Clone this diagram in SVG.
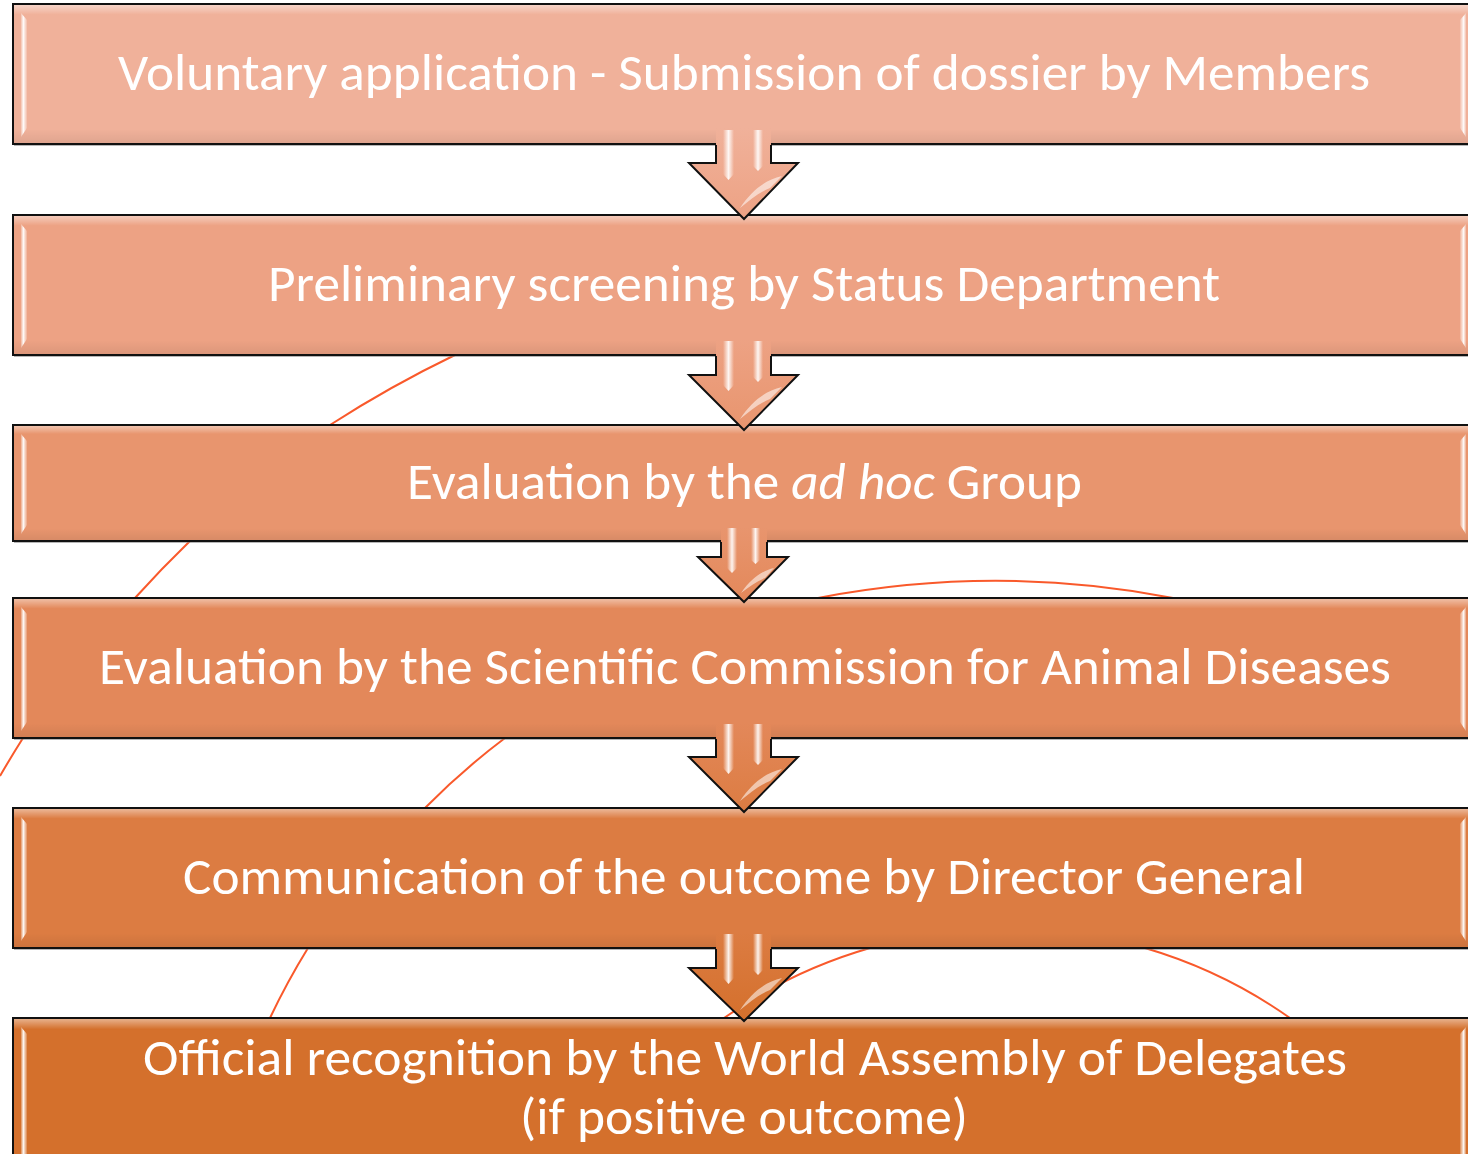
<svg xmlns="http://www.w3.org/2000/svg" width="1468" height="1154" viewBox="0 0 1468 1154">
<defs>
<style>
.arc{fill:none;stroke:#F9592B;stroke-width:2}
.box{stroke:#111;stroke-width:2}
.shadow{fill:#7a7a7a;opacity:.55}
.gloss{fill:url(#gloss);stroke:none}
.bev{fill:url(#bevL);stroke:none}
.bevr{fill:url(#bevR);stroke:none}
.txt{font-family:Carlito,"Open Sans","Noto Sans",sans-serif;font-size:52px;fill:#fff}
.arrow{stroke:none}
.aline{fill:none;stroke:#111;stroke-width:2;stroke-linejoin:miter}
.hl{fill:url(#hlg);stroke:none}
.gl{fill:#fff;opacity:.55;stroke:none}
</style>
<linearGradient id="gloss" x1="0" y1="0" x2="0" y2="1">
<stop offset="0" stop-color="#fff" stop-opacity=".45"/>
<stop offset=".07" stop-color="#fff" stop-opacity="0"/>
<stop offset=".9" stop-color="#000" stop-opacity="0"/>
<stop offset="1" stop-color="#000" stop-opacity=".07"/>
</linearGradient>
<linearGradient id="bevL" x1="0" y1="0" x2="1" y2="0">
<stop offset="0" stop-color="#fff" stop-opacity=".2"/>
<stop offset=".4" stop-color="#fff" stop-opacity=".95"/>
<stop offset="1" stop-color="#fff" stop-opacity=".15"/>
</linearGradient>
<linearGradient id="bevR" x1="0" y1="0" x2="1" y2="0">
<stop offset="0" stop-color="#fff" stop-opacity=".15"/>
<stop offset=".6" stop-color="#fff" stop-opacity=".95"/>
<stop offset="1" stop-color="#fff" stop-opacity=".2"/>
</linearGradient>
<linearGradient id="hlg" x1="0" y1="0" x2="1" y2="0">
<stop offset="0" stop-color="#fff" stop-opacity="0"/>
<stop offset=".5" stop-color="#fff" stop-opacity=".9"/>
<stop offset="1" stop-color="#fff" stop-opacity="0"/>
</linearGradient>
<linearGradient id="a1" x1="0" y1="0" x2="0" y2="1"><stop offset="0" stop-color="#F0B19A"/><stop offset="1" stop-color="#EDA284"/></linearGradient>
<linearGradient id="a2" x1="0" y1="0" x2="0" y2="1"><stop offset="0" stop-color="#EDA284"/><stop offset="1" stop-color="#E8956E"/></linearGradient>
<linearGradient id="a3" x1="0" y1="0" x2="0" y2="1"><stop offset="0" stop-color="#E8956E"/><stop offset="1" stop-color="#E3885A"/></linearGradient>
<linearGradient id="a4" x1="0" y1="0" x2="0" y2="1"><stop offset="0" stop-color="#E3885A"/><stop offset="1" stop-color="#DC7C42"/></linearGradient>
<linearGradient id="a5" x1="0" y1="0" x2="0" y2="1"><stop offset="0" stop-color="#DC7C42"/><stop offset="1" stop-color="#D4702C"/></linearGradient>
</defs>
<rect width="1468" height="1154" fill="#fff"/>

<g id="background-arcs">
<path class="arc" d="M330,425 A1162,1162 0 0 1 455,355"/>
<path class="arc" d="M135,598 A1162,1162 0 0 1 190,541"/>
<path class="arc" d="M0,776 A1162,1162 0 0 1 23,738"/>
<path class="arc" d="M425,808 A721,721 0 0 1 505,738"/>
<path class="arc" d="M270,1018 A721,721 0 0 1 308,948"/>
<path class="arc" d="M818,598 A935,935 0 0 1 1173,598"/>
<path class="arc" d="M724,1018 A490,490 0 0 1 870,948"/>
<path class="arc" d="M1145,948 A490,490 0 0 1 1290,1018"/>
</g>

<g id="node1">
<rect class="shadow" x="14" y="6" width="1470" height="140"/>
<rect class="box" x="13" y="4" width="1470" height="140" fill="#F0B19A"/>
<rect class="gloss" x="14" y="5" width="1468" height="138"/>
<polygon class="bev" points="21,13 27,20 27,128 21,137"/>
<polygon class="bevr" points="1466,13 1460,20 1460,128 1466,137"/>
<text class="txt" x="118" y="90" textLength="1252" lengthAdjust="spacingAndGlyphs">Voluntary application - Submission of dossier by Members</text>
</g>

<g id="node2">
<rect class="shadow" x="14" y="217" width="1470" height="140"/>
<rect class="box" x="13" y="215" width="1470" height="140" fill="#EDA284"/>
<rect class="gloss" x="14" y="216" width="1468" height="138"/>
<polygon class="bev" points="21,224 27,231 27,339 21,348"/>
<polygon class="bevr" points="1466,224 1460,231 1460,339 1466,348"/>
<text class="txt" x="268" y="301" textLength="952" lengthAdjust="spacingAndGlyphs">Preliminary screening by Status Department</text>
</g>

<g id="node3">
<rect class="shadow" x="14" y="427" width="1470" height="116"/>
<rect class="box" x="13" y="425" width="1470" height="116" fill="#E8956E"/>
<rect class="gloss" x="14" y="426" width="1468" height="114"/>
<polygon class="bev" points="21,434 27,441 27,525 21,534"/>
<polygon class="bevr" points="1466,434 1460,441 1460,525 1466,534"/>
<text class="txt" x="407" y="499" textLength="675" lengthAdjust="spacingAndGlyphs">Evaluation by the <tspan font-style="italic">ad hoc</tspan> Group</text>
</g>

<g id="node4">
<rect class="shadow" x="14" y="600" width="1470" height="140"/>
<rect class="box" x="13" y="598" width="1470" height="140" fill="#E3885A"/>
<rect class="gloss" x="14" y="599" width="1468" height="138"/>
<polygon class="bev" points="21,607 27,614 27,722 21,731"/>
<polygon class="bevr" points="1466,607 1460,614 1460,722 1466,731"/>
<text class="txt" x="99" y="684" textLength="1292" lengthAdjust="spacingAndGlyphs">Evaluation by the Scientific Commission for Animal Diseases</text>
</g>

<g id="node5">
<rect class="shadow" x="14" y="810" width="1470" height="140"/>
<rect class="box" x="13" y="808" width="1470" height="140" fill="#DC7C42"/>
<rect class="gloss" x="14" y="809" width="1468" height="138"/>
<polygon class="bev" points="21,817 27,824 27,932 21,941"/>
<polygon class="bevr" points="1466,817 1460,824 1460,932 1466,941"/>
<text class="txt" x="183" y="894" textLength="1122" lengthAdjust="spacingAndGlyphs">Communication of the outcome by Director General</text>
</g>

<g id="node6">
<rect class="shadow" x="14" y="1020" width="1470" height="150"/>
<rect class="box" x="13" y="1018" width="1470" height="150" fill="#D4702C"/>
<rect class="gloss" x="14" y="1019" width="1468" height="148"/>
<polygon class="bev" points="21,1027 27,1034 27,1160 21,1168"/>
<polygon class="bevr" points="1466,1027 1460,1034 1460,1160 1466,1168"/>
<text class="txt" x="143" y="1075" textLength="1204" lengthAdjust="spacingAndGlyphs">Official recognition by the World Assembly of Delegates</text>
<text class="txt" x="520" y="1134" textLength="448" lengthAdjust="spacingAndGlyphs">(if positive outcome)</text>
</g>

<g id="connectors">
<g id="arrow1">
<polygon class="arrow" fill="url(#a1)" points="716,128 771,128 771,163 798,163 744,219 689,163 716,163"/>
<polyline class="aline" points="716,145 716,163 689,163 744,219 798,163 771,163 771,145"/>
<path class="hl" d="M723,130 h11 v44 l-5.5,6 l-5.5,-6 z"/>
<path class="hl" d="M753,130 h10 v36 l-5,5 l-5,-5 z"/>
<path class="gl" d="M740,208 C752,190 765,180 782,176 L770,188 C760,192 750,200 740,208 z"/>
</g>
<g id="arrow2">
<polygon class="arrow" fill="url(#a2)" points="716,339 771,339 771,375 798,375 744,430 689,375 716,375"/>
<polyline class="aline" points="716,356 716,375 689,375 744,430 798,375 771,375 771,356"/>
<path class="hl" d="M723,341 h11 v44 l-5.5,6 l-5.5,-6 z"/>
<path class="hl" d="M753,341 h10 v36 l-5,5 l-5,-5 z"/>
<path class="gl" d="M740,419 C752,401 765,391 782,387 L770,399 C760,403 750,411 740,419 z"/>
</g>
<g id="arrow3">
<polygon class="arrow" fill="url(#a3)" points="721,527 767,527 767,557 788,557 744,602 698,557 721,557"/>
<polyline class="aline" points="721,542 721,557 698,557 744,602 788,557 767,557 767,542"/>
<path class="hl" d="M727,528 h10 v40 l-5,5 l-5,-5 z"/>
<path class="hl" d="M751,528 h9 v32 l-4.5,4 l-4.5,-4 z"/>
<path class="gl" d="M741,593 C751,579 761,571 774,568 L765,578 C757,581 749,587 741,593 z"/>
</g>
<g id="arrow4">
<polygon class="arrow" fill="url(#a4)" points="716,722 771,722 771,757 798,757 744,812 689,757 716,757"/>
<polyline class="aline" points="716,739 716,757 689,757 744,812 798,757 771,757 771,739"/>
<path class="hl" d="M723,724 h11 v44 l-5.5,6 l-5.5,-6 z"/>
<path class="hl" d="M753,724 h10 v36 l-5,5 l-5,-5 z"/>
<path class="gl" d="M740,801 C752,783 765,773 782,769 L770,781 C760,785 750,793 740,801 z"/>
</g>
<g id="arrow5">
<polygon class="arrow" fill="url(#a5)" points="716,932 771,932 771,968 798,968 744,1021 689,968 716,968"/>
<polyline class="aline" points="716,949 716,968 689,968 744,1021 798,968 771,968 771,949"/>
<path class="hl" d="M723,934 h11 v44 l-5.5,6 l-5.5,-6 z"/>
<path class="hl" d="M753,934 h10 v36 l-5,5 l-5,-5 z"/>
<path class="gl" d="M740,1010 C752,992 765,982 782,978 L770,990 C760,994 750,1002 740,1010 z"/>
</g>
</g>
</svg>
